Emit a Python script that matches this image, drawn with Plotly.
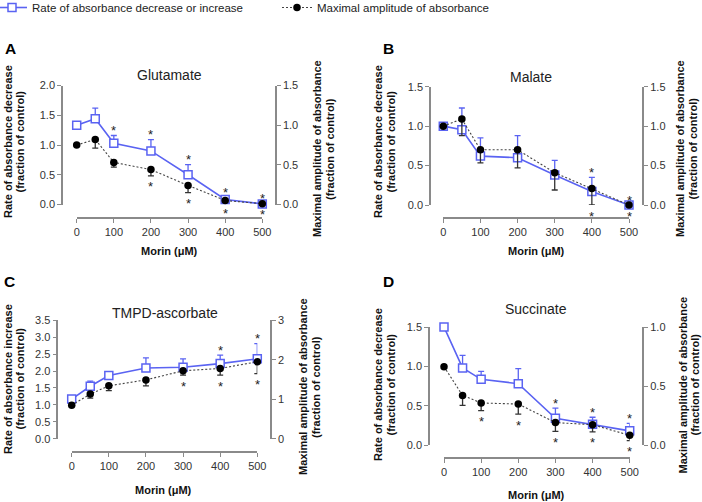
import plotly.graph_objects as go

W, H = 702, 502
FONT = "Arial, Liberation Sans, sans-serif"
BLUE = "#5a63f2"
AXIS = "#8a8a8a"
TXT = "#333333"

# ---------------- data ----------------
doses = [0, 50, 100, 200, 300, 400, 500]
x_tick_vals = [0, 100, 200, 300, 400, 500]
legend_rate = "Rate of absorbance decrease or increase"
legend_amp = "Maximal amplitude of absorbance"

# A - Glutamate
glu_rate = [1.33, 1.44, 1.03, 0.90, 0.50, 0.085, 0.01]
glu_rate_err = [0, 0.18, 0.13, 0.19, 0.17, 0.03, 0]
glu_amp = [0.75, 0.82, 0.53, 0.44, 0.24, 0.05, 0.01]
glu_amp_err = [0, 0.11, 0.06, 0.08, 0.09, 0.02, 0]
glu_rate_sig = [100, 200, 300, 400, 500]
glu_amp_sig = [200, 300, 400, 500]

# B - Malate
mal_rate = [1.0, 0.955, 0.62, 0.60, 0.38, 0.17, 0.0]
mal_rate_err = [0, 0.275, 0.23, 0.28, 0.185, 0.18, 0]
mal_amp = [1.0, 1.09, 0.70, 0.70, 0.41, 0.21, 0.0]
mal_amp_err = [0, 0.21, 0.165, 0.23, 0.22, 0.21, 0]
mal_rate_sig = [400, 500]
mal_amp_sig = [400, 500]

# C - TMPD-ascorbate
tmpd_rate = [1.17, 1.55, 1.87, 2.09, 2.11, 2.22, 2.36]
tmpd_rate_err = [0, 0.15, 0.09, 0.30, 0.25, 0.25, 0.45]
tmpd_amp = [0.85, 1.13, 1.34, 1.49, 1.72, 1.78, 1.95]
tmpd_amp_err = [0, 0.10, 0.12, 0.15, 0.11, 0.17, 0.30]
tmpd_rate_sig = [400, 500]
tmpd_amp_sig = [300, 400, 500]

# D - Succinate
suc_rate = [1.5, 0.98, 0.835, 0.78, 0.34, 0.263, 0.18]
suc_rate_err = [0, 0.16, 0.10, 0.19, 0.13, 0.09, 0.095]
suc_amp = [0.664, 0.42, 0.356, 0.347, 0.19, 0.172, 0.082]
suc_amp_err = [0, 0.085, 0.065, 0.085, 0.075, 0.06, 0.045]
suc_rate_sig = [300, 400, 500]
suc_amp_sig = [100, 200, 300, 400, 500]

# left / right axis tick labels
glu_left_ticks = [0, 0.5, 1.0, 1.5, 2.0]
glu_right_ticks = [0, 0.5, 1.0, 1.5]
mal_left_ticks = [0, 0.5, 1.0, 1.5]
mal_right_ticks = [0, 0.5, 1.0, 1.5]
tmpd_left_ticks = [0, 0.5, 1.0, 1.5, 2.0, 2.5, 3.0, 3.5]
tmpd_right_ticks = [0, 1, 2, 3]
suc_left_ticks = [0, 0.5, 1.0, 1.5]
suc_right_ticks = [0, 0.5, 1.0]

panels = [
    dict(letter="A", title="Glutamate", rate=glu_rate, rate_err=glu_rate_err, amp=glu_amp,
         amp_err=glu_amp_err, rate_sig=glu_rate_sig, amp_sig=glu_amp_sig,
         lt=glu_left_ticks, rt=glu_right_ticks, lfmt=".1f", rfmt=".1f",
         ltitle="Rate of absorbance decrease",
         # layout in pixels
         x0=76.7, x1=262.3, yb=204.5, yt=85.5, xl=62, xr=276, xline=218,
         letter_xy=(10, 48), title_xy=(169, 75), xt_xy=(169, 251),
         lt_x=(8, 19.5), lt_y=142, rt_x=(317, 330), rt_y=149),
    dict(letter="B", title="Malate", rate=mal_rate, rate_err=mal_rate_err, amp=mal_amp,
         amp_err=mal_amp_err, rate_sig=mal_rate_sig, amp_sig=mal_amp_sig,
         lt=mal_left_ticks, rt=mal_right_ticks, lfmt=".1f", rfmt=".1f",
         ltitle="Rate of absorbance decrease",
         x0=443.3, x1=629, yb=205, yt=86.7, xl=430, xr=643.3, xline=218,
         letter_xy=(388.5, 48), title_xy=(531, 77.5), xt_xy=(536, 251),
         lt_x=(378, 390.5), lt_y=142, rt_x=(680, 692.5), rt_y=149),
    dict(letter="C", title="TMPD-ascorbate", rate=tmpd_rate, rate_err=tmpd_rate_err, amp=tmpd_amp,
         amp_err=tmpd_amp_err, rate_sig=tmpd_rate_sig, amp_sig=tmpd_amp_sig,
         lt=tmpd_left_ticks, rt=tmpd_right_ticks, lfmt=".1f", rfmt="d",
         ltitle="Rate of absorbance increase",
         x0=71.7, x1=257.3, yb=438.7, yt=320.3, xl=57.3, xr=271, xline=452,
         letter_xy=(9, 281), title_xy=(165, 313), xt_xy=(163.5, 489.5),
         lt_x=(8, 19.5), lt_y=379, rt_x=(303, 316), rt_y=387),
    dict(letter="D", title="Succinate", rate=suc_rate, rate_err=suc_rate_err, amp=suc_amp,
         amp_err=suc_amp_err, rate_sig=suc_rate_sig, amp_sig=suc_amp_sig,
         lt=suc_left_ticks, rt=suc_right_ticks, lfmt=".1f", rfmt=".1f",
         ltitle="Rate of absorbance decrease",
         x0=444, x1=629.7, yb=445, yt=327, xl=429, xr=643.3, xline=458,
         letter_xy=(388.5, 281), title_xy=(536, 308.5), xt_xy=(536, 495),
         lt_x=(378, 390.5), lt_y=385, rt_x=(682.5, 694.5), rt_y=385),
]


def fx(px):
    return px / W


def fy(py):
    return 1 - py / H


fig = go.Figure()
layout = dict(
    width=W, height=H, autosize=False,
    margin=dict(l=0, r=0, t=0, b=0, autoexpand=False),
    paper_bgcolor="white", plot_bgcolor="rgba(0,0,0,0)",
    font=dict(family=FONT, size=11, color=TXT),
)
annotations = []

axis_common = dict(showgrid=False, zeroline=False, showline=True, linecolor=AXIS,
                   linewidth=1.5, ticks="outside", ticklen=4, tickwidth=1.3,
                   tickcolor=AXIS, tickfont=dict(family=FONT, size=11, color=TXT),
                   fixedrange=True)

STAR_UP = 5
STAR_DOWN = -11

for i, p in enumerate(panels):
    xid = "x" if i == 0 else f"x{i + 1}"
    ly = "y" if i == 0 else f"y{2 * i + 1}"
    ry = f"y{2 * i + 2}"
    xkey = "xaxis" if i == 0 else f"xaxis{i + 1}"
    lkey = "yaxis" if i == 0 else f"yaxis{2 * i + 1}"
    rkey = f"yaxis{2 * i + 2}"
    ydom = [fy(p["yb"]), fy(p["yt"])]

    layout[xkey] = dict(axis_common, domain=[fx(p["x0"]), fx(p["x1"])], range=[0, 500],
                        tickvals=x_tick_vals, anchor="free", position=fy(p["xline"]))
    layout[lkey] = dict(axis_common, domain=ydom, range=[0, p["lt"][-1]],
                        tickvals=p["lt"], tickformat=p["lfmt"], anchor="free",
                        position=fx(p["xl"]))
    layout[rkey] = dict(axis_common, domain=ydom, range=[0, p["rt"][-1]],
                        tickvals=p["rt"], tickformat=p["rfmt"], anchor="free",
                        position=fx(p["xr"]), overlaying=ly, side="right")

    fig.add_trace(go.Scatter(
        x=doses, y=p["rate"], xaxis=xid, yaxis=ly, mode="lines+markers",
        name=legend_rate, showlegend=(i == 0), legend="legend",
        line=dict(color=BLUE, width=1.6),
        marker=dict(symbol="square", size=8, color="white", line=dict(color=BLUE, width=1.5)),
        error_y=dict(type="data", array=p["rate_err"], arrayminus=[0] * len(doses),
                     symmetric=False, color=BLUE, thickness=1.3, width=3),
        cliponaxis=False, hoverinfo="skip"))
    fig.add_trace(go.Scatter(
        x=doses, y=p["amp"], xaxis=xid, yaxis=ry, mode="lines+markers",
        name=legend_amp, showlegend=(i == 0), legend="legend2",
        line=dict(color="#444444", width=1.1, dash="2px,2px"),
        marker=dict(symbol="circle", size=7.5, color="black"),
        error_y=dict(type="data", array=[0] * len(doses), arrayminus=p["amp_err"],
                     symmetric=False, color="#333333", thickness=1.3, width=3),
        cliponaxis=False, hoverinfo="skip"))

    # significance stars
    for d in p["rate_sig"]:
        k = doses.index(d)
        annotations.append(dict(x=d, y=p["rate"][k] + p["rate_err"][k], xref=xid, yref=ly,
                                text="*", showarrow=False, yshift=STAR_UP,
                                font=dict(family=FONT, size=13, color="#222222")))
    for d in p["amp_sig"]:
        k = doses.index(d)
        annotations.append(dict(x=d, y=p["amp"][k] - p["amp_err"][k], xref=xid, yref=ry,
                                text="*", showarrow=False, yshift=STAR_DOWN,
                                font=dict(family=FONT, size=13, color="#222222")))

    # panel letter, title, axis titles
    annotations.append(dict(x=fx(p["letter_xy"][0]), y=fy(p["letter_xy"][1]), xref="paper",
                            yref="paper", text=f"<b>{p['letter']}</b>", showarrow=False,
                            xanchor="center", yanchor="middle",
                            font=dict(family=FONT, size=15.5, color="black")))
    annotations.append(dict(x=fx(p["title_xy"][0]), y=fy(p["title_xy"][1]), xref="paper",
                            yref="paper", text=p["title"], showarrow=False,
                            xanchor="center", yanchor="middle",
                            font=dict(family=FONT, size=14, color="#222222")))
    annotations.append(dict(x=fx(p["xt_xy"][0]), y=fy(p["xt_xy"][1]), xref="paper",
                            yref="paper", text="<b>Morin (μM)</b>", showarrow=False,
                            xanchor="center", yanchor="middle",
                            font=dict(family=FONT, size=11, color="#111111")))
    for txt, xx in zip([p["ltitle"], "(fraction of control)"], p["lt_x"]):
        annotations.append(dict(x=fx(xx), y=fy(p["lt_y"]), xref="paper", yref="paper",
                                text=f"<b>{txt}</b>", showarrow=False, textangle=-90,
                                xanchor="center", yanchor="middle",
                                font=dict(family=FONT, size=11, color="#111111")))
    for txt, xx in zip(["Maximal amplitude of absorbance", "(fraction of control)"], p["rt_x"]):
        annotations.append(dict(x=fx(xx), y=fy(p["rt_y"]), xref="paper", yref="paper",
                                text=f"<b>{txt}</b>", showarrow=False, textangle=-90,
                                xanchor="center", yanchor="middle",
                                font=dict(family=FONT, size=11, color="#111111")))

layout["annotations"] = annotations
layout["legend"] = dict(x=fx(-8), y=fy(7.5), xanchor="left", yanchor="middle",
                        orientation="h", bgcolor="rgba(0,0,0,0)", borderwidth=0,
                        font=dict(family=FONT, size=11.5, color="#222222"))
layout["legend2"] = dict(x=fx(277), y=fy(7.5), xanchor="left", yanchor="middle",
                         orientation="h", bgcolor="rgba(0,0,0,0)", borderwidth=0,
                         font=dict(family=FONT, size=11.5, color="#222222"))
fig.update_layout(**layout)
fig.write_html("out.html")
